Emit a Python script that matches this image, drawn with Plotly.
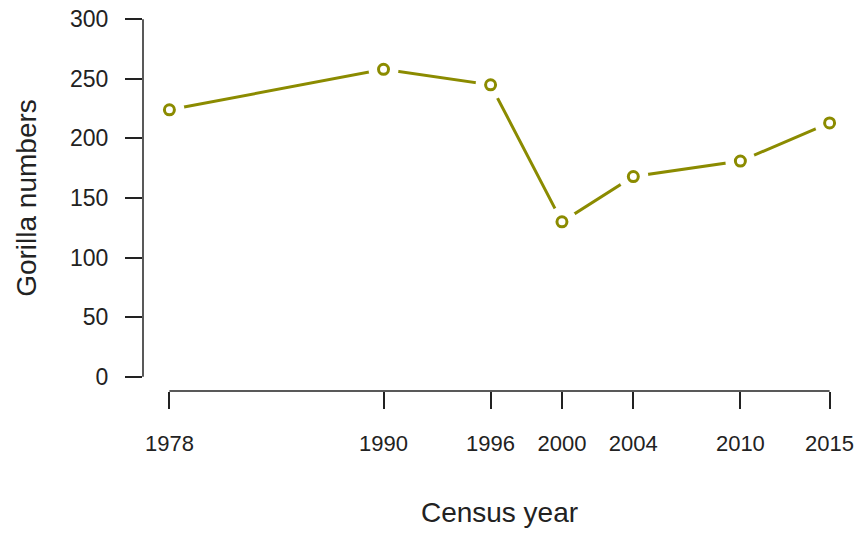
import plotly.graph_objects as go

years = [1978, 1990, 1996, 2000, 2004, 2010, 2015]
gorillas = [224, 258, 245, 130, 168, 181, 213]
y_ticks = [0, 50, 100, 150, 200, 250, 300]

olive = "#8B8B00"
axis_col = "#222222"
font_family = "Liberation Sans, Arial, sans-serif"

xpad = (max(years) - min(years)) * 0.04
ypad = (max(y_ticks) - min(y_ticks)) * 0.04

fig = go.Figure()
# line
fig.add_trace(go.Scatter(x=years, y=gorillas, mode="lines",
                         line=dict(color=olive, width=3), hoverinfo="skip"))
# white gap disks (emulate R type="b")
fig.add_trace(go.Scatter(x=years, y=gorillas, mode="markers",
                         marker=dict(symbol="circle", size=30, color="white",
                                     line=dict(width=0)), hoverinfo="skip"))
# open circle markers
fig.add_trace(go.Scatter(x=years, y=gorillas, mode="markers",
                         marker=dict(symbol="circle-open", size=10, color=olive,
                                     line=dict(width=3, color=olive))))

# axis lines spanning only the tick range (R style)
fig.add_shape(type="line", xref="paper", yref="y", x0=0, x1=0,
              y0=min(y_ticks), y1=max(y_ticks), line=dict(color=axis_col, width=1.5))
fig.add_shape(type="line", xref="x", yref="paper", x0=min(years), x1=max(years),
              y0=0, y1=0, line=dict(color=axis_col, width=1.5))

fig.update_layout(
    width=861, height=535,
    margin=dict(l=143, r=5, t=5, b=144),
    paper_bgcolor="white", plot_bgcolor="white",
    showlegend=False,
    font=dict(family=font_family, color="#222222"),
    xaxis=dict(range=[min(years) - xpad, max(years) + xpad],
               tickmode="array", tickvals=years, ticktext=[str(y) for y in years],
               showgrid=False, zeroline=False, showline=False,
               ticks="outside", ticklen=17, tickwidth=1.5, tickcolor=axis_col,
               ticklabelstandoff=16,
               tickfont=dict(size=22, family=font_family, color="#222222"),
               title=dict(text="Census year", standoff=46,
                          font=dict(size=28, family=font_family, color="#222222"))),
    yaxis=dict(range=[min(y_ticks) - ypad, max(y_ticks) + ypad],
               tickmode="array", tickvals=y_ticks,
               showgrid=False, zeroline=False, showline=False,
               ticks="outside", ticklen=17, tickwidth=1.5, tickcolor=axis_col,
               ticklabelstandoff=12,
               tickfont=dict(size=23, family=font_family, color="#222222"),
               title=dict(text="Gorilla numbers", standoff=25,
                          font=dict(size=28, family=font_family, color="#222222"))),
)

fig.write_html("out.html", config={"displayModeBar": False})

# remove default browser body margin so the figure sits at the page origin
with open("out.html", "r", encoding="utf-8") as f:
    html = f.read()
html = html.replace("<head>", "<head><style>body{margin:0;padding:0;}</style>", 1)
with open("out.html", "w", encoding="utf-8") as f:
    f.write(html)
